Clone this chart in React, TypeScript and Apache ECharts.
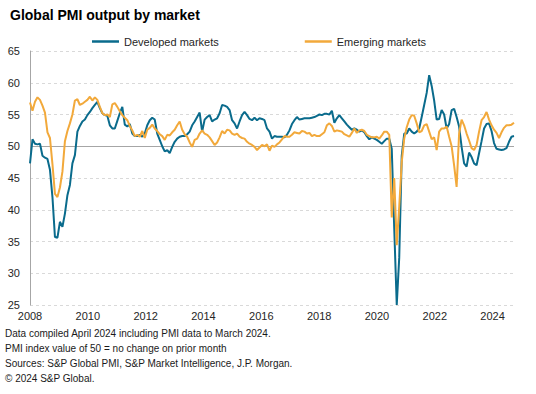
import React, { useEffect, useRef } from 'react';
import * as echarts from 'echarts';

// Monthly PMI output index, Jan 2008 – Mar 2024
const developed = [
  47.3, 51.1, 50.4, 50.3, 50.4, 48.5, 48.2, 48.0, 46.3, 42.0, 35.7, 35.6,
  38.1, 37.3, 39.4, 42.3, 43.9, 47.3, 48.6, 52.3, 53.2, 53.9, 54.2, 54.9,
  55.4, 56.0, 56.5, 57.0, 56.0, 55.2, 54.9, 54.8, 53.3, 52.8, 52.8, 54.0,
  55.2, 56.2, 53.4, 53.1, 53.5, 52.0, 51.6, 51.6, 51.8, 51.5, 52.0, 53.3,
  54.1, 54.5, 54.2, 52.0, 51.0, 50.0, 49.2, 49.4, 48.9, 49.9, 50.7, 51.2,
  51.5, 51.6, 51.6, 51.9, 52.3, 53.3, 53.9, 54.6, 55.3, 52.3, 54.2, 54.6,
  54.9, 53.9, 54.2, 54.4, 55.2, 56.5, 56.4, 56.2, 55.7, 54.1, 53.6, 52.8,
  53.9, 54.9, 55.4, 54.9, 54.3, 54.1, 54.5, 54.1, 54.4, 54.3, 54.1, 52.8,
  52.3, 51.2, 51.6, 51.5, 51.5, 51.5, 51.4, 51.8, 52.5, 53.5, 54.1, 54.6,
  54.2, 54.3, 54.4, 54.4, 54.4, 54.5, 54.6, 54.8, 55.0, 54.9, 55.1, 55.1,
  55.0, 55.6, 53.7, 54.4, 54.9, 54.4, 53.9, 53.4, 53.0, 52.6, 52.8, 52.6,
  52.3, 52.5, 52.2, 51.6, 51.1, 51.4, 51.2, 51.0, 50.7, 50.4, 50.8, 51.2,
  51.2, 49.6, 37.0, 25.0, 32.5, 48.5, 52.0, 52.0, 52.8, 52.3, 52.0, 52.3,
  52.8, 54.6, 56.5, 58.4, 61.2, 59.5, 57.2, 54.2, 54.3, 55.7, 55.0, 52.8,
  53.5, 55.7, 55.9, 54.6, 53.1, 49.9, 47.3, 46.8, 49.0, 48.3, 47.3, 47.0,
  48.9, 50.8, 52.8, 53.5, 53.6, 52.4, 50.5, 49.6, 49.5, 49.4, 49.5, 49.7,
  50.7, 51.5, 51.6,
];

const emerging = [
  56.9, 55.6, 57.0, 57.7, 57.3, 56.4, 55.3, 52.2, 51.3, 47.2, 42.5, 42.0,
  43.5, 46.0, 50.8, 52.4, 53.6, 55.0, 57.2, 57.4, 56.5, 56.7, 57.0, 57.3,
  57.8, 57.2, 57.7, 57.3, 56.2, 55.2, 54.9, 55.0, 54.6, 56.6, 56.8, 56.2,
  55.5, 54.9, 54.5, 54.1, 53.2, 52.5, 51.6, 51.8, 51.5, 52.4, 51.3, 52.6,
  52.9, 53.4, 52.8, 52.4, 51.9, 51.6, 51.0, 51.8, 51.7, 52.2, 52.6, 53.3,
  53.9, 52.6, 51.9, 51.5, 50.6, 49.9, 51.0, 51.2, 52.0, 52.5, 52.0, 51.8,
  51.4, 50.8, 50.2, 50.6, 51.4, 52.4, 52.0, 52.6, 52.5, 52.0, 51.8, 52.0,
  51.5, 51.3, 51.2, 50.7, 50.4, 50.2, 49.9, 49.4, 49.8, 50.2, 50.0, 50.3,
  49.3, 50.1, 49.9, 50.3, 50.6, 51.1, 51.6, 51.5, 51.5, 51.8, 52.2, 52.1,
  52.0, 52.4, 52.3, 52.0, 52.1, 51.6, 51.8, 51.6, 51.6, 51.9, 52.2, 53.3,
  53.6, 53.2, 52.3, 52.5, 52.4, 52.3, 51.9, 51.7, 51.5, 52.1, 52.8, 52.1,
  52.5, 52.6, 52.4, 51.8, 51.6, 51.4, 51.4, 51.5, 51.2, 51.7, 52.3, 52.3,
  51.8, 38.8, 45.0, 34.4, 40.5, 47.5, 51.2, 53.0, 54.2, 54.9, 54.8, 53.6,
  52.2, 52.4, 53.3, 53.5, 52.3, 51.1, 51.4, 49.4, 52.3, 52.8, 52.8, 53.1,
  51.5, 50.0, 47.0, 43.6, 52.0, 54.2, 53.3, 52.0, 50.9, 49.7, 49.4, 50.2,
  52.3, 54.1, 54.6, 55.4, 54.2, 53.3, 52.6, 52.1, 51.3, 52.2, 52.9, 53.3,
  53.3, 53.4, 53.7,
];

const startYear = 2008;
const months = developed.map(
  (_, i) => `${startYear + Math.floor(i / 12)}-${String((i % 12) + 1).padStart(2, '0')}`
);
const yearTicks = [2008, 2010, 2012, 2014, 2016, 2018, 2020, 2022, 2024];
const seriesNames = ['Developed markets', 'Emerging markets'];
const footnotes = [
  'Data compiled April 2024 including PMI data to March 2024.',
  'PMI index value of 50 = no change on prior month',
  'Sources: S&P Global PMI, S&P Market Intelligence, J.P. Morgan.',
  '\u00A9 2024 S&P Global.',
];

const FONT = '"Liberation Sans", Arial, sans-serif';

export default function App() {
  const ref = useRef<HTMLDivElement>(null);
  useEffect(() => {
    if (!ref.current) return;
    const chart = echarts.init(ref.current, undefined, { renderer: 'svg' });
    chart.setOption({
      animation: false,
      backgroundColor: '#ffffff',
      textStyle: { fontFamily: FONT },
      title: {
        text: 'Global PMI output by market',
        left: 5,
        top: 3,
        textStyle: { fontSize: 14, fontWeight: 'bold', color: '#000', fontFamily: FONT },
      },
      legend: {
        top: 31,
        left: 87,
        icon: 'rect',
        itemWidth: 27,
        itemHeight: 2.5,
        itemGap: 86,
        data: seriesNames,
        textStyle: { fontSize: 11, color: '#262626', fontFamily: FONT },
      },
      grid: { left: 30, right: 22, top: 51, bottom: 89, containLabel: false },
      xAxis: [
        {
          type: 'category',
          data: months,
          boundaryGap: false,
          axisLine: { show: false },
          axisTick: { show: false },
          axisLabel: { show: false },
          splitLine: { show: false },
        },
        {
          type: 'value',
          position: 'bottom',
          min: 2008,
          max: 2024.74,
          interval: 2,
          axisLine: { show: false },
          axisTick: { show: false },
          splitLine: { show: false },
          axisLabel: {
            showMaxLabel: false,
            margin: 5,
            fontSize: 11,
            color: '#262626',
            fontFamily: FONT,
            formatter: (v: number) => (yearTicks.includes(v) ? String(v) : ''),
          },
        },
      ],
      yAxis: {
        type: 'value',
        min: 25,
        max: 65,
        interval: 5,
        axisLine: { show: true, lineStyle: { color: '#a6a6a6', width: 1 } },
        axisTick: { show: false },
        axisLabel: { margin: 10, fontSize: 11, color: '#262626', fontFamily: FONT },
        splitLine: { show: true, lineStyle: { color: '#d9d9d9', type: [3, 3], width: 1 } },
      },
      series: [
        {
          name: seriesNames[0],
          type: 'line',
          xAxisIndex: 0,
          data: developed,
          showSymbol: false,
          symbol: 'none',
          lineStyle: { color: '#0a6b8c', width: 2 },
          itemStyle: { color: '#0a6b8c' },
          markLine: {
            silent: true,
            symbol: 'none',
            label: { show: false },
            lineStyle: { color: '#a6a6a6', type: 'solid', width: 1 },
            data: [{ yAxis: 50 }],
            z: 1,
          },
          z: 3,
        },
        {
          name: seriesNames[1],
          type: 'line',
          xAxisIndex: 0,
          data: emerging,
          showSymbol: false,
          symbol: 'none',
          lineStyle: { color: '#f2a93b', width: 2 },
          itemStyle: { color: '#f2a93b' },
          z: 4,
        },
      ],
      graphic: footnotes.map((t, i) => ({
        type: 'text',
        left: 5,
        top: 328 + i * 15,
        style: { text: t, fontSize: 10, fill: '#1a1a1a', fontFamily: FONT },
      })),
    });
    return () => chart.dispose();
  }, []);
  return (
    <div
      ref={ref}
      style={{ position: 'fixed', left: 0, top: 0, width: 536, height: 394, background: '#fff' }}
    />
  );
}
